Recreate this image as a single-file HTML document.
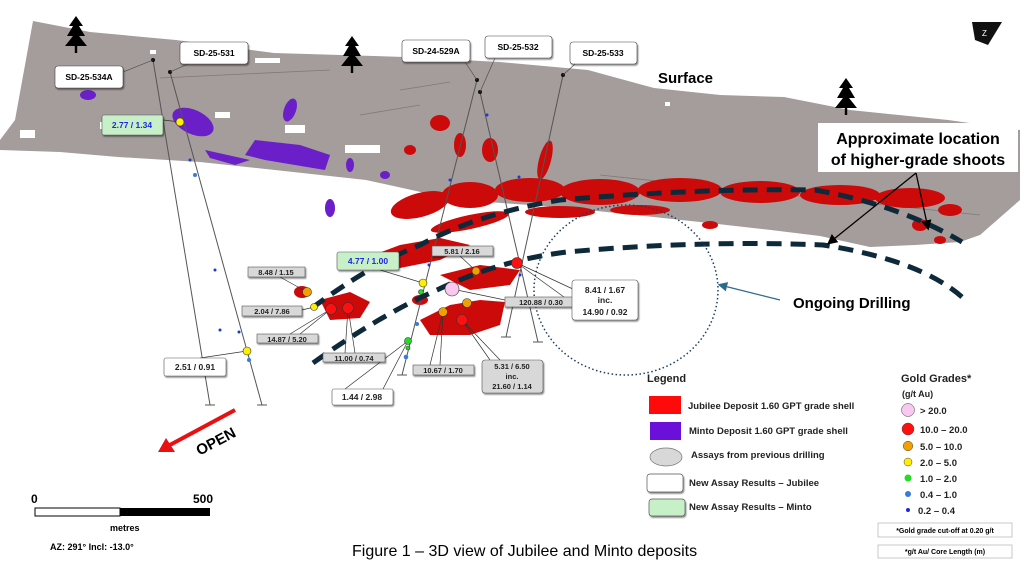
<!DOCTYPE html>
<html><head><meta charset="utf-8"><style>
html,body{margin:0;padding:0;background:#fff}
svg{display:block}
text{font-family:"Liberation Sans",sans-serif}
</style></head><body>
<svg width="1024" height="573" viewBox="0 0 1024 573" xmlns="http://www.w3.org/2000/svg">
<defs>
<filter id="sh" x="-10%" y="-10%" width="130%" height="140%"><feDropShadow dx="1" dy="1.5" stdDeviation="0.8" flood-color="#000" flood-opacity="0.45"/></filter>
<marker id="ah" markerWidth="8" markerHeight="8" refX="6" refY="4" orient="auto"><path d="M0,0 L8,4 L0,8 z" fill="#000"/></marker>
<marker id="ahb" markerWidth="8" markerHeight="8" refX="6" refY="4" orient="auto"><path d="M0,0 L8,4 L0,8 z" fill="#2a6a8a"/></marker>
</defs>
<!-- surface -->
<polygon points="33,21 90,32 176,40 274,53 405,57 500,62 588,70 654,88 720,95 784,97 850,110 948,120 1020,130 1020,200 980,235 960,242 915,245 870,247 820,236 771,230 700,222 654,217 560,207 457,200 366,180 275,170 200,162 118,157 60,152 0,150 0,140 15,120" fill="#a59c9c"/>
<g fill="#fff">
<rect x="20" y="130" width="15" height="8"/><rect x="100" y="122" width="30" height="7"/><rect x="215" y="112" width="15" height="6"/><rect x="285" y="125" width="20" height="8"/><rect x="345" y="145" width="35" height="8"/><rect x="150" y="50" width="6" height="4"/><rect x="255" y="58" width="25" height="5"/><rect x="665" y="102" width="5" height="4"/>
</g>
<g stroke="#6a6262" stroke-width="0.8" opacity="0.6">
<line x1="160" y1="78" x2="330" y2="70"/><line x1="360" y1="115" x2="420" y2="105"/><line x1="600" y1="175" x2="980" y2="215"/><line x1="400" y1="90" x2="450" y2="82"/>
</g>
<!-- purple -->
<g fill="#6a1fc8">
<ellipse cx="193" cy="122" rx="22" ry="12" transform="rotate(25 193 122)"/>
<ellipse cx="88" cy="95" rx="8" ry="5"/>
<polygon points="255,140 300,145 330,155 325,170 295,165 265,160 245,155"/>
<polygon points="205,150 250,160 235,165 210,158"/>
<ellipse cx="290" cy="110" rx="6" ry="12" transform="rotate(20 290 110)"/>
<ellipse cx="350" cy="165" rx="4" ry="7"/>
<ellipse cx="330" cy="208" rx="5" ry="9"/>
<ellipse cx="385" cy="175" rx="5" ry="4"/>
</g>
<!-- red -->
<g fill="#cc0a0a">
<ellipse cx="420" cy="205" rx="30" ry="12" transform="rotate(-15 420 205)"/>
<ellipse cx="470" cy="195" rx="28" ry="13"/>
<ellipse cx="530" cy="190" rx="35" ry="12"/>
<ellipse cx="600" cy="192" rx="40" ry="13"/>
<ellipse cx="680" cy="190" rx="42" ry="12"/>
<ellipse cx="760" cy="192" rx="40" ry="11"/>
<ellipse cx="840" cy="195" rx="40" ry="10"/>
<ellipse cx="910" cy="198" rx="35" ry="10"/>
<ellipse cx="950" cy="210" rx="12" ry="6"/>
<ellipse cx="560" cy="212" rx="35" ry="6"/>
<ellipse cx="640" cy="210" rx="30" ry="5"/>
<ellipse cx="470" cy="222" rx="40" ry="7" transform="rotate(-12 470 222)"/>
<ellipse cx="440" cy="123" rx="10" ry="8"/>
<ellipse cx="460" cy="145" rx="6" ry="12"/>
<ellipse cx="490" cy="150" rx="8" ry="12"/>
<ellipse cx="545" cy="160" rx="6" ry="20" transform="rotate(15 545 160)"/>
<ellipse cx="410" cy="150" rx="6" ry="5"/>
<polygon points="360,260 400,245 440,238 470,245 440,260 400,268 370,270"/>
<polygon points="440,275 480,265 520,270 510,285 470,290"/>
<polygon points="420,320 450,305 480,300 505,302 500,325 470,335 430,335"/>
<polygon points="320,300 350,292 370,302 360,318 330,320"/>
<ellipse cx="302" cy="292" rx="8" ry="6"/>
<ellipse cx="345" cy="260" rx="6" ry="4"/>
<ellipse cx="420" cy="300" rx="8" ry="5"/>
<ellipse cx="920" cy="225" rx="8" ry="6"/>
<ellipse cx="940" cy="240" rx="6" ry="4"/>
<ellipse cx="710" cy="225" rx="8" ry="4"/>
</g>
<!-- drill lines -->
<g stroke="#555" stroke-width="1">
<line x1="153" y1="60" x2="210" y2="405"/><line x1="170" y1="72" x2="262" y2="405"/>
<line x1="477" y1="80" x2="402" y2="375"/><line x1="480" y1="92" x2="538" y2="342"/>
<line x1="563" y1="75" x2="506" y2="337"/>
<line x1="205" y1="405" x2="215" y2="405"/><line x1="257" y1="405" x2="267" y2="405"/><line x1="397" y1="375" x2="407" y2="375"/><line x1="533" y1="342" x2="543" y2="342"/><line x1="501" y1="337" x2="511" y2="337"/>
</g>
<g fill="#111"><circle cx="153" cy="60" r="2"/><circle cx="170" cy="72" r="2"/><circle cx="477" cy="80" r="2"/><circle cx="480" cy="92" r="2"/><circle cx="563" cy="75" r="2"/></g>
<!-- dashed curves -->
<path d="M312,308 Q370,265 420,245 Q480,213 560,200 Q700,188 815,190 Q900,205 962,242" fill="none" stroke="#0e2a3a" stroke-width="5" stroke-dasharray="15,9"/>
<path d="M313,363 Q380,315 437,290 Q500,260 567,252 Q700,240 823,245 Q920,260 962,297" fill="none" stroke="#0e2a3a" stroke-width="5" stroke-dasharray="15,9"/>
<ellipse cx="626" cy="290" rx="92" ry="85" fill="none" stroke="#1e3e5e" stroke-width="1.5" stroke-dasharray="1.5,2.5"/>
<line x1="780" y1="300" x2="720" y2="285" stroke="#2a6a8a" stroke-width="1.2" marker-end="url(#ahb)"/>
<text x="793" y="308" font-size="15" font-weight="bold">Ongoing Drilling</text>
<!-- trees -->
<g fill="#000">
<g transform="translate(76,16)"><polygon points="0,0 -7,10 -3,10 -9,20 -3,20 -11,30 11,30 3,20 9,20 3,10 7,10"/><rect x="-1.2" y="30" width="2.4" height="7"/></g>
<g transform="translate(352,36)"><polygon points="0,0 -7,10 -3,10 -9,20 -3,20 -11,30 11,30 3,20 9,20 3,10 7,10"/><rect x="-1.2" y="30" width="2.4" height="7"/></g>
<g transform="translate(846,78)"><polygon points="0,0 -7,10 -3,10 -9,20 -3,20 -11,30 11,30 3,20 9,20 3,10 7,10"/><rect x="-1.2" y="30" width="2.4" height="7"/></g>
</g>
<text x="658" y="83" font-size="15" font-weight="bold">Surface</text>
<rect x="818" y="123" width="200" height="49" fill="#fff"/>
<text x="918" y="144" font-size="16" font-weight="bold" text-anchor="middle">Approximate location</text>
<text x="918" y="165" font-size="16" font-weight="bold" text-anchor="middle">of higher-grade shoots</text>
<line x1="916" y1="173" x2="829" y2="243" stroke="#000" stroke-width="1.3" marker-end="url(#ah)"/>
<line x1="916" y1="173" x2="928" y2="228" stroke="#000" stroke-width="1.3" marker-end="url(#ah)"/>
<!-- logo -->
<polygon points="972,22 1002,22 988,45 975,40" fill="#111"/><text x="982" y="36" font-size="8" fill="#fff">Z</text>
<!-- hole labels -->
<g font-size="8.5" font-weight="bold" text-anchor="middle">
<rect x="55" y="66" width="68" height="22" rx="3" fill="#fff" stroke="#444" stroke-width="0.6" filter="url(#sh)"/><text x="89" y="80">SD-25-534A</text>
<line x1="123" y1="72" x2="153" y2="60" stroke="#444" stroke-width="0.6"/>
<rect x="180" y="42" width="68" height="22" rx="3" fill="#fff" stroke="#444" stroke-width="0.6" filter="url(#sh)"/><text x="214" y="56">SD-25-531</text>
<line x1="188" y1="64" x2="170" y2="72" stroke="#444" stroke-width="0.6"/>
<rect x="402" y="40" width="68" height="22" rx="3" fill="#fff" stroke="#444" stroke-width="0.6" filter="url(#sh)"/><text x="436" y="54">SD-24-529A</text>
<line x1="465" y1="62" x2="477" y2="80" stroke="#444" stroke-width="0.6"/>
<rect x="485" y="36" width="67" height="22" rx="3" fill="#fff" stroke="#444" stroke-width="0.6" filter="url(#sh)"/><text x="518" y="50">SD-25-532</text>
<line x1="495" y1="58" x2="480" y2="92" stroke="#444" stroke-width="0.6"/>
<rect x="570" y="42" width="67" height="22" rx="3" fill="#fff" stroke="#444" stroke-width="0.6" filter="url(#sh)"/><text x="603" y="56">SD-25-533</text>
<line x1="575" y1="64" x2="563" y2="75" stroke="#444" stroke-width="0.6"/>
</g>
<!-- small blue dots -->
<g fill="#1a3ad8"><circle cx="190" cy="160" r="1.5"/><circle cx="215" cy="270" r="1.5"/><circle cx="220" cy="330" r="1.5"/><circle cx="239" cy="332" r="1.5"/><circle cx="487" cy="115" r="1.5"/><circle cx="450" cy="180" r="1.5"/><circle cx="429" cy="265" r="1.5"/><circle cx="520" cy="275" r="1.5"/><circle cx="519" cy="177" r="1.5"/></g>
<g fill="#3a7ad8"><circle cx="195" cy="175" r="2"/><circle cx="417" cy="324" r="2"/><circle cx="406" cy="357" r="2.3"/><circle cx="249" cy="360" r="2"/></g>
<!-- callout lines -->
<g stroke="#333" stroke-width="0.7" fill="none">
<line x1="130" y1="116" x2="180" y2="122"/><line x1="280" y1="277" x2="307" y2="292"/><line x1="302" y1="310" x2="314" y2="307"/>
<line x1="290" y1="334" x2="331" y2="309"/><line x1="300" y1="334" x2="331" y2="309"/><line x1="345" y1="353" x2="348" y2="308"/><line x1="355" y1="353" x2="348" y2="308"/>
<line x1="380" y1="270" x2="423" y2="283"/><line x1="460" y1="256" x2="476" y2="271"/>
<line x1="345" y1="389" x2="408" y2="341"/><line x1="383" y1="389" x2="408" y2="341"/>
<line x1="452" y1="289" x2="505" y2="300"/><line x1="517" y1="263" x2="575" y2="290"/><line x1="517" y1="263" x2="575" y2="305"/>
<line x1="430" y1="365" x2="443" y2="312"/><line x1="440" y1="365" x2="443" y2="312"/><line x1="490" y1="360" x2="462" y2="320"/><line x1="500" y1="360" x2="462" y2="320"/>
<line x1="200" y1="358" x2="247" y2="351"/>
</g>
<!-- grade circles -->
<g stroke="#333" stroke-width="0.6">
<circle cx="180" cy="122" r="4" fill="#ffee00"/>
<circle cx="307" cy="292" r="4.5" fill="#f0a000"/><circle cx="314" cy="307" r="3.5" fill="#ffee00"/>
<circle cx="331" cy="309" r="5.5" fill="#ff1010"/><circle cx="348" cy="308" r="5.5" fill="#ff1010"/>
<circle cx="423" cy="283" r="4" fill="#ffee00"/><circle cx="421" cy="292" r="2.5" fill="#22dd22"/>
<circle cx="408" cy="341" r="3.5" fill="#22dd22"/><circle cx="408" cy="348" r="2" fill="#22dd22"/>
<circle cx="452" cy="289" r="7" fill="#f8c8f0"/><circle cx="476" cy="271" r="4" fill="#f0a000"/>
<circle cx="517" cy="263" r="5.5" fill="#ff1010"/>
<circle cx="443" cy="312" r="4.5" fill="#f0a000"/><circle cx="467" cy="303" r="4.5" fill="#f0a000"/><circle cx="462" cy="320" r="5.5" fill="#ff1010"/>
<circle cx="247" cy="351" r="4" fill="#ffee00"/>
</g>
<!-- assay labels -->
<g font-size="8.5" font-weight="bold" text-anchor="middle" fill="#222">
<rect x="102" y="115" width="61" height="20" rx="2" fill="#c8f0c8" stroke="#555" stroke-width="0.6" filter="url(#sh)"/><text x="132" y="128" fill="#1a2ae0">2.77 / 1.34</text>
<rect x="337" y="252" width="62" height="18" rx="2" fill="#c8f0c8" stroke="#555" stroke-width="0.6" filter="url(#sh)"/><text x="368" y="264" fill="#1a2ae0">4.77 / 1.00</text>
<rect x="248" y="267" width="57" height="10" fill="#d8d8d8" stroke="#555" stroke-width="0.6" filter="url(#sh)"/><text x="276" y="275" font-size="7.5">8.48 / 1.15</text>
<rect x="242" y="306" width="60" height="10" fill="#d8d8d8" stroke="#555" stroke-width="0.6" filter="url(#sh)"/><text x="272" y="314" font-size="7.5">2.04 / 7.86</text>
<rect x="257" y="334" width="61" height="9" fill="#d8d8d8" stroke="#555" stroke-width="0.6" filter="url(#sh)"/><text x="287" y="342" font-size="7.5">14.87 / 5.20</text>
<rect x="323" y="353" width="62" height="9" fill="#d8d8d8" stroke="#555" stroke-width="0.6" filter="url(#sh)"/><text x="354" y="361" font-size="7.5">11.00 / 0.74</text>
<rect x="432" y="246" width="61" height="10" fill="#d8d8d8" stroke="#555" stroke-width="0.6" filter="url(#sh)"/><text x="462" y="254" font-size="7.5">5.81 / 2.16</text>
<rect x="505" y="297" width="73" height="10" fill="#d8d8d8" stroke="#555" stroke-width="0.6" filter="url(#sh)"/><text x="541" y="305" font-size="7.5">120.88 / 0.30</text>
<rect x="413" y="365" width="61" height="10" fill="#d8d8d8" stroke="#555" stroke-width="0.6" filter="url(#sh)"/><text x="443" y="373" font-size="7.5">10.67 / 1.70</text>
<rect x="482" y="360" width="61" height="33" rx="3" fill="#d8d8d8" stroke="#555" stroke-width="0.6" filter="url(#sh)"/><text x="512" y="369" font-size="7.5">5.31 / 6.50</text><text x="512" y="379" font-size="7.5">inc.</text><text x="512" y="389" font-size="7.5">21.60 / 1.14</text>
<rect x="572" y="280" width="66" height="40" rx="3" fill="#fff" stroke="#555" stroke-width="0.6" filter="url(#sh)"/><text x="605" y="293">8.41 / 1.67</text><text x="605" y="303">inc.</text><text x="605" y="315">14.90 / 0.92</text>
<rect x="332" y="389" width="61" height="16" rx="2" fill="#fff" stroke="#555" stroke-width="0.6" filter="url(#sh)"/><text x="362" y="400">1.44 / 2.98</text>
<rect x="164" y="358" width="62" height="18" rx="2" fill="#fff" stroke="#555" stroke-width="0.6" filter="url(#sh)"/><text x="195" y="370">2.51 / 0.91</text>
</g>
<!-- OPEN -->
<line x1="235" y1="410" x2="168" y2="446" stroke="#e81010" stroke-width="4"/>
<polygon points="158,452 166,438 175,452" fill="#e81010"/>
<text x="195" y="452" font-size="15" font-weight="bold" transform="rotate(-28 205 445)">OPEN</text>
<!-- scale -->
<text x="31" y="503" font-size="12" font-weight="bold">0</text><text x="193" y="503" font-size="12" font-weight="bold">500</text>
<rect x="35" y="508" width="85" height="8" fill="#fff" stroke="#000" stroke-width="1"/><rect x="120" y="508" width="90" height="8" fill="#000"/>
<text x="110" y="531" font-size="9" font-weight="bold">metres</text>
<text x="50" y="550" font-size="9" font-weight="bold">AZ: 291°  Incl: -13.0°</text>
<text x="352" y="556" font-size="16">Figure 1 – 3D view of Jubilee and Minto deposits</text>
<!-- legend -->
<g font-size="9.5" font-weight="bold" fill="#222">
<text x="647" y="382" font-size="11">Legend</text>
<rect x="649" y="396" width="32" height="18" fill="#ff0a0a"/><text x="688" y="409">Jubilee Deposit 1.60 GPT grade shell</text>
<rect x="650" y="422" width="31" height="18" fill="#6a10d8"/><text x="689" y="434">Minto Deposit 1.60 GPT grade shell</text>
<ellipse cx="666" cy="457" rx="16" ry="9" fill="#d8d8d8" stroke="#777" stroke-width="0.7"/><text x="691" y="458">Assays from previous drilling</text>
<rect x="647" y="474" width="36" height="18" rx="3" fill="#fff" stroke="#555" stroke-width="0.7" filter="url(#sh)"/><text x="689" y="486">New Assay Results – Jubilee</text>
<rect x="649" y="499" width="36" height="17" rx="3" fill="#c8f0c8" stroke="#555" stroke-width="0.7" filter="url(#sh)"/><text x="689" y="510">New Assay Results – Minto</text>
<text x="901" y="382" font-size="11">Gold Grades*</text>
<text x="902" y="397" font-size="9">(g/t Au)</text>
<circle cx="908" cy="410" r="6.5" fill="#f8c8f0" stroke="#444" stroke-width="0.5"/><text x="920" y="414">&gt; 20.0</text>
<circle cx="908" cy="429" r="6" fill="#ff1010" stroke="#444" stroke-width="0.5"/><text x="920" y="433">10.0 – 20.0</text>
<circle cx="908" cy="446" r="4.8" fill="#f0a000" stroke="#444" stroke-width="0.5"/><text x="920" y="450">5.0 – 10.0</text>
<circle cx="908" cy="462" r="4" fill="#ffee00" stroke="#444" stroke-width="0.5"/><text x="920" y="466">2.0 – 5.0</text>
<circle cx="908" cy="478" r="3.5" fill="#22dd22"/><text x="920" y="482">1.0 – 2.0</text>
<circle cx="908" cy="494" r="3" fill="#3a7ad8"/><text x="920" y="498">0.4 – 1.0</text>
<circle cx="908" cy="510" r="2" fill="#1a2ad8"/><text x="918" y="514">0.2 – 0.4</text>
</g>
<rect x="878" y="523" width="134" height="14" fill="#fff" stroke="#bbb" stroke-width="0.8"/>
<text x="945" y="533" font-size="7" font-weight="bold" text-anchor="middle">*Gold grade cut-off at 0.20 g/t</text>
<rect x="878" y="545" width="134" height="13" fill="#fff" stroke="#bbb" stroke-width="0.8"/>
<text x="945" y="554" font-size="7" font-weight="bold" text-anchor="middle">*g/t Au/ Core Length (m)</text>
</svg>
</body></html>
